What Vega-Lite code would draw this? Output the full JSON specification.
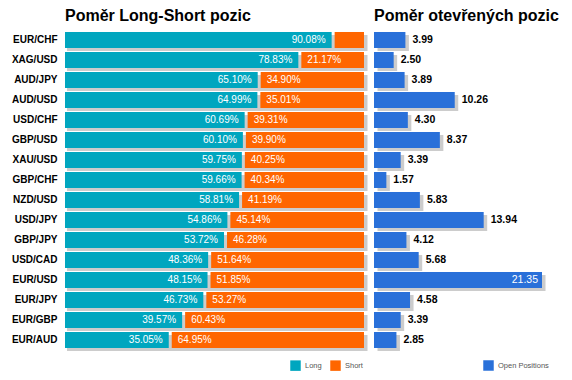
{
  "$schema": "https://vega.github.io/schema/vega-lite/v6.json",
  "background": "white",
  "padding": {"left": 11, "top": 8, "right": 5, "bottom": 5},
  "config": {
    "font": "Liberation Sans",
    "view": {"stroke": null},
    "title": {"anchor": "start", "frame": "group", "fontSize": 16, "fontWeight": "bold", "color": "black", "font": "Liberation Sans", "offset": 6},
    "legend": {"orient": "none", "direction": "horizontal", "symbolType": "square", "symbolSize": 110, "symbolStrokeWidth": 0, "labelFontSize": 7.5, "labelColor": "#555555", "labelOffset": 4, "columnPadding": 8, "title": null}
  },
  "datasets": {
    "fx": [
      {"pair": "EUR/CHF", "long": 90.08, "short": 9.92, "oi": 3.99},
      {"pair": "XAG/USD", "long": 78.83, "short": 21.17, "oi": 2.50},
      {"pair": "AUD/JPY", "long": 65.10, "short": 34.90, "oi": 3.89},
      {"pair": "AUD/USD", "long": 64.99, "short": 35.01, "oi": 10.26},
      {"pair": "USD/CHF", "long": 60.69, "short": 39.31, "oi": 4.30},
      {"pair": "GBP/USD", "long": 60.10, "short": 39.90, "oi": 8.37},
      {"pair": "XAU/USD", "long": 59.75, "short": 40.25, "oi": 3.39},
      {"pair": "GBP/CHF", "long": 59.66, "short": 40.34, "oi": 1.57},
      {"pair": "NZD/USD", "long": 58.81, "short": 41.19, "oi": 5.83},
      {"pair": "USD/JPY", "long": 54.86, "short": 45.14, "oi": 13.94},
      {"pair": "GBP/JPY", "long": 53.72, "short": 46.28, "oi": 4.12},
      {"pair": "USD/CAD", "long": 48.36, "short": 51.64, "oi": 5.68},
      {"pair": "EUR/USD", "long": 48.15, "short": 51.85, "oi": 21.35},
      {"pair": "EUR/JPY", "long": 46.73, "short": 53.27, "oi": 4.58},
      {"pair": "EUR/GBP", "long": 39.57, "short": 60.43, "oi": 3.39},
      {"pair": "EUR/AUD", "long": 35.05, "short": 64.95, "oi": 2.85}
    ]
  },
  "resolve": {"scale": {"color": "independent"}, "legend": {"color": "independent"}},
  "spacing": 6,
  "hconcat": [
    {
      "width": 296,
      "height": 320,
      "title": {"text": "Poměr Long-Short pozic"},
      "data": {"name": "fx"},
      "transform": [
        {"calculate": "format(datum.long, '.2f') + '%'", "as": "longLabel"},
        {"calculate": "format(datum.short, '.2f') + '%'", "as": "shortLabel"}
      ],
      "encoding": {
        "y": {"field": "pair", "type": "nominal", "sort": null,
          "scale": {"paddingInner": 0.2, "paddingOuter": 0.1},
          "axis": {"title": null, "ticks": false, "domain": false, "labelPadding": 8, "labelFontSize": 10, "labelFontWeight": "bold", "labelColor": "black"}}
      },
      "layer": [
        {
          "mark": {"type": "bar", "color": "#cccccc", "xOffset": 2, "x2Offset": 6.5, "yOffset": 3, "y2Offset": 3},
          "encoding": {
            "x": {"datum": 0, "type": "quantitative", "scale": {"domain": [0, 100], "nice": false}, "axis": null},
            "x2": {"datum": 100}
          }
        },
        {
          "mark": {"type": "bar"},
          "encoding": {
            "x": {"field": "long", "type": "quantitative"},
            "color": {"datum": "Long", "type": "nominal",
              "scale": {"domain": ["Long", "Short"], "range": ["#00a6bf", "#ff6600"]},
              "legend": {"legendX": 225, "legendY": 330}}
          }
        },
        {
          "mark": {"type": "bar", "xOffset": 3, "x2Offset": 3},
          "encoding": {
            "x": {"field": "long", "type": "quantitative"},
            "x2": {"datum": 100},
            "color": {"datum": "Short", "type": "nominal"}
          }
        },
        {
          "mark": {"type": "text", "align": "right", "baseline": "middle", "dx": -6, "color": "white", "fontSize": 10},
          "encoding": {
            "x": {"field": "long", "type": "quantitative"},
            "text": {"field": "longLabel"}
          }
        },
        {
          "transform": [{"filter": "datum.short > 15"}],
          "mark": {"type": "text", "align": "left", "baseline": "middle", "dx": 9, "color": "white", "fontSize": 10},
          "encoding": {
            "x": {"field": "long", "type": "quantitative"},
            "text": {"field": "shortLabel"}
          }
        }
      ]
    },
    {
      "width": 168,
      "height": 320,
      "title": {"text": "Poměr otevřených pozic"},
      "data": {"name": "fx"},
      "encoding": {
        "y": {"field": "pair", "type": "nominal", "sort": null,
          "scale": {"paddingInner": 0.2, "paddingOuter": 0.1},
          "axis": null}
      },
      "layer": [
        {
          "mark": {"type": "bar", "color": "#cccccc", "xOffset": 3.5, "x2Offset": 2, "yOffset": 3, "y2Offset": 3},
          "encoding": {
            "x": {"field": "oi", "type": "quantitative", "scale": {"domain": [0, 21.35], "nice": false}, "axis": null}
          }
        },
        {
          "mark": {"type": "bar"},
          "encoding": {
            "x": {"field": "oi", "type": "quantitative"},
            "color": {"datum": "Open Positions", "type": "nominal",
              "scale": {"domain": ["Open Positions"], "range": ["#2970d9"]},
              "legend": {"legendX": 109, "legendY": 330}}
          }
        },
        {
          "transform": [{"filter": "datum.oi < 20"}],
          "mark": {"type": "text", "align": "left", "baseline": "middle", "dx": 7, "color": "black", "fontSize": 10.5, "fontWeight": "bold"},
          "encoding": {
            "x": {"field": "oi", "type": "quantitative"},
            "text": {"field": "oi", "type": "quantitative", "format": ".2f"}
          }
        },
        {
          "transform": [{"filter": "datum.oi >= 20"}],
          "mark": {"type": "text", "align": "right", "baseline": "middle", "dx": -4, "color": "white", "fontSize": 10.5},
          "encoding": {
            "x": {"field": "oi", "type": "quantitative"},
            "text": {"field": "oi", "type": "quantitative", "format": ".2f"}
          }
        }
      ]
    }
  ]
}
